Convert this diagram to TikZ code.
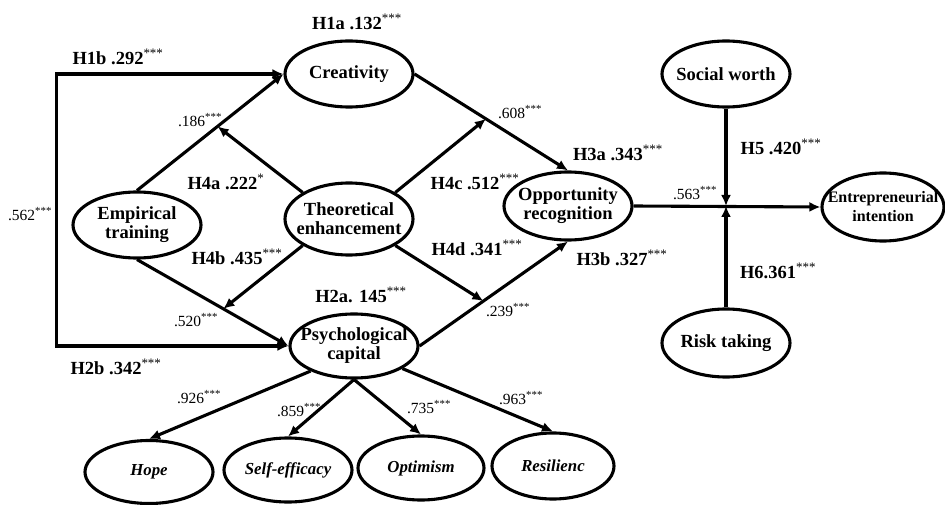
\documentclass[tikz,border=0pt]{standalone}
\usepackage{fontspec}
\setmainfont{Liberation Serif}
\usetikzlibrary{shapes.geometric,arrows.meta}
\newcommand\stars{\textsuperscript{\mdseries ***}}
\newcommand\onestar{\textsuperscript{\mdseries *}}
\begin{document}
\begin{tikzpicture}[x=1pt,y=-1pt,
 ell/.style={ellipse,draw,line width=3.1pt,inner sep=0pt,minimum width=128pt,minimum height=66pt},
 ltxt/.style={font=\fontsize{18.5}{19}\selectfont\bfseries,align=center,inner sep=0pt},
 itxt/.style={font=\fontsize{16.8}{18}\selectfont\bfseries\itshape,inner sep=0pt},
 hlab/.style={font=\fontsize{18.5}{20}\selectfont\bfseries,inner sep=0pt},
 nlab/.style={font=\fontsize{15.5}{17}\selectfont,inner sep=0pt},
 con/.style={line width=3.1pt},
 tip/.tip={Latex[length=11pt,width=10pt]},
 arr/.style={con,-tip},
]
\useasboundingbox (0,0) rectangle (945,505);
% ellipses
\node[ell] (cre) at (349,74) {};
\node[ell] (emp) at (137,225) {};
\node[ell,minimum height=72pt] (the) at (349,219) {};
\node[ell,minimum height=68pt] (opp) at (568,206) {};
\node[ell] (sw) at (726,74) {};
\node[ell,minimum width=122pt,minimum height=68pt] (ent) at (883,207) {};
\node[ell,minimum height=68pt] (risk) at (726,343) {};
\node[ell,minimum height=64pt] (psy) at (354,346) {};
\node[ell,minimum height=63pt] (hope) at (149,472) {};
\node[ell,minimum height=64pt] (self) at (288,470) {};
\node[ell,minimum width=126pt,minimum height=64pt] (opt) at (421,468) {};
\node[ell,minimum width=122pt,minimum height=66pt] (res) at (553,466) {};
% node texts
\node[ltxt] (cre-t) at (cre) {Creativity};
\node[ltxt] (emp-t) at (emp) {Empirical\\training};
\node[ltxt] (the-t) at (the) {Theoretical\\enhancement};
\node[ltxt] (opp-t) at (opp) {Opportunity\\recognition};
\node[ltxt] (sw-t) at (sw) {Social worth};
\node[ltxt,font=\fontsize{16}{19}\selectfont\bfseries] (ent-t) at (ent) {Entrepreneurial\\intention};
\node[ltxt] (risk-t) at (risk) {Risk taking};
\node[ltxt] (psy-t) at (psy) {Psychological\\capital};
\node[itxt] (hope-t) at (hope) {Hope};
\node[itxt] (self-t) at (self) {Self-efficacy};
\node[itxt] (opt-t) at (opt) {Optimism};
\node[itxt] (res-t) at (res) {Resilienc};
% helper coordinates on lines
\path (emp.north) -- (cre.west) coordinate[pos=0.55] (m1);
\path (emp.south) -- (psy.west) coordinate[pos=0.57] (m2);
\path (cre.east) -- (opp.north) coordinate[pos=0.465] (m3);
\path (psy.east) -- (opp.south) coordinate[pos=0.43] (m4);
\coordinate (j) at (sw.south |- opp.east);
% connectors
\draw[con,tip-tip] (cre.west) -- ++(-227,0) coordinate (lt) -- (lt |- psy.west) coordinate (lb) -- (psy.west);
\draw[arr] (emp.north) -- (cre.west);
\draw[arr] (emp.south) -- (psy.west);
\draw[arr] (cre.east) -- (opp.north);
\draw[arr] (psy.east) -- (opp.south);
\draw[arr] (the.north west) -- (m1);
\draw[arr] (the.south west) -- (m2);
\draw[arr] (the.north east) -- (m3);
\draw[arr] (the.south east) -- (m4);
\draw[arr] (opp.east) -- (ent.west);
\draw[arr] (sw.south) -- (j);
\draw[arr] (risk.north) -- (j);
\draw[arr] (psy.210) -- (hope.north);
\draw[arr] (psy.south) -- (self.north);
\draw[arr] (psy.south) -- (opt.north);
\draw[arr] (psy.335) -- (res.north);
% labels
\node[hlab] (l1) at (357,22) {H1a .132\stars};
\node[hlab] (l2) at (118,57) {H1b .292\stars};
\node[nlab] (l3) at (30,214) {.562\stars};
\node[nlab] (l4) at (200,120) {.186\stars};
\node[hlab] (l5) at (226,182) {H4a .222\onestar};
\node[hlab] (l6) at (237,257) {H4b .435\stars};
\node[nlab] (l7) at (196,320) {.520\stars};
\node[hlab] (l8) at (116,367) {H2b .342\stars};
\node[hlab] (l9) at (361,295) {H2a. 145\stars};
\node[nlab] (l10) at (520,112) {.608\stars};
\node[hlab] (l11) at (475,182) {H4c .512\stars};
\node[hlab] (l12) at (477,248) {H4d .341\stars};
\node[hlab] (l13) at (618,153) {H3a .343\stars};
\node[hlab] (l14) at (622,258) {H3b .327\stars};
\node[nlab] (l15) at (508,310) {.239\stars};
\node[nlab] (l16) at (695,193) {.563\stars};
\node[hlab] (l17) at (781,147) {H5 .420\stars};
\node[hlab] (l18) at (778,271) {H6.361\stars};
\node[nlab] (l19) at (199,397) {.926\stars};
\node[nlab] (l20) at (299,410) {.859\stars};
\node[nlab] (l21) at (429,407) {.735\stars};
\node[nlab] (l22) at (521,398) {.963\stars};
\end{tikzpicture}
\end{document}
